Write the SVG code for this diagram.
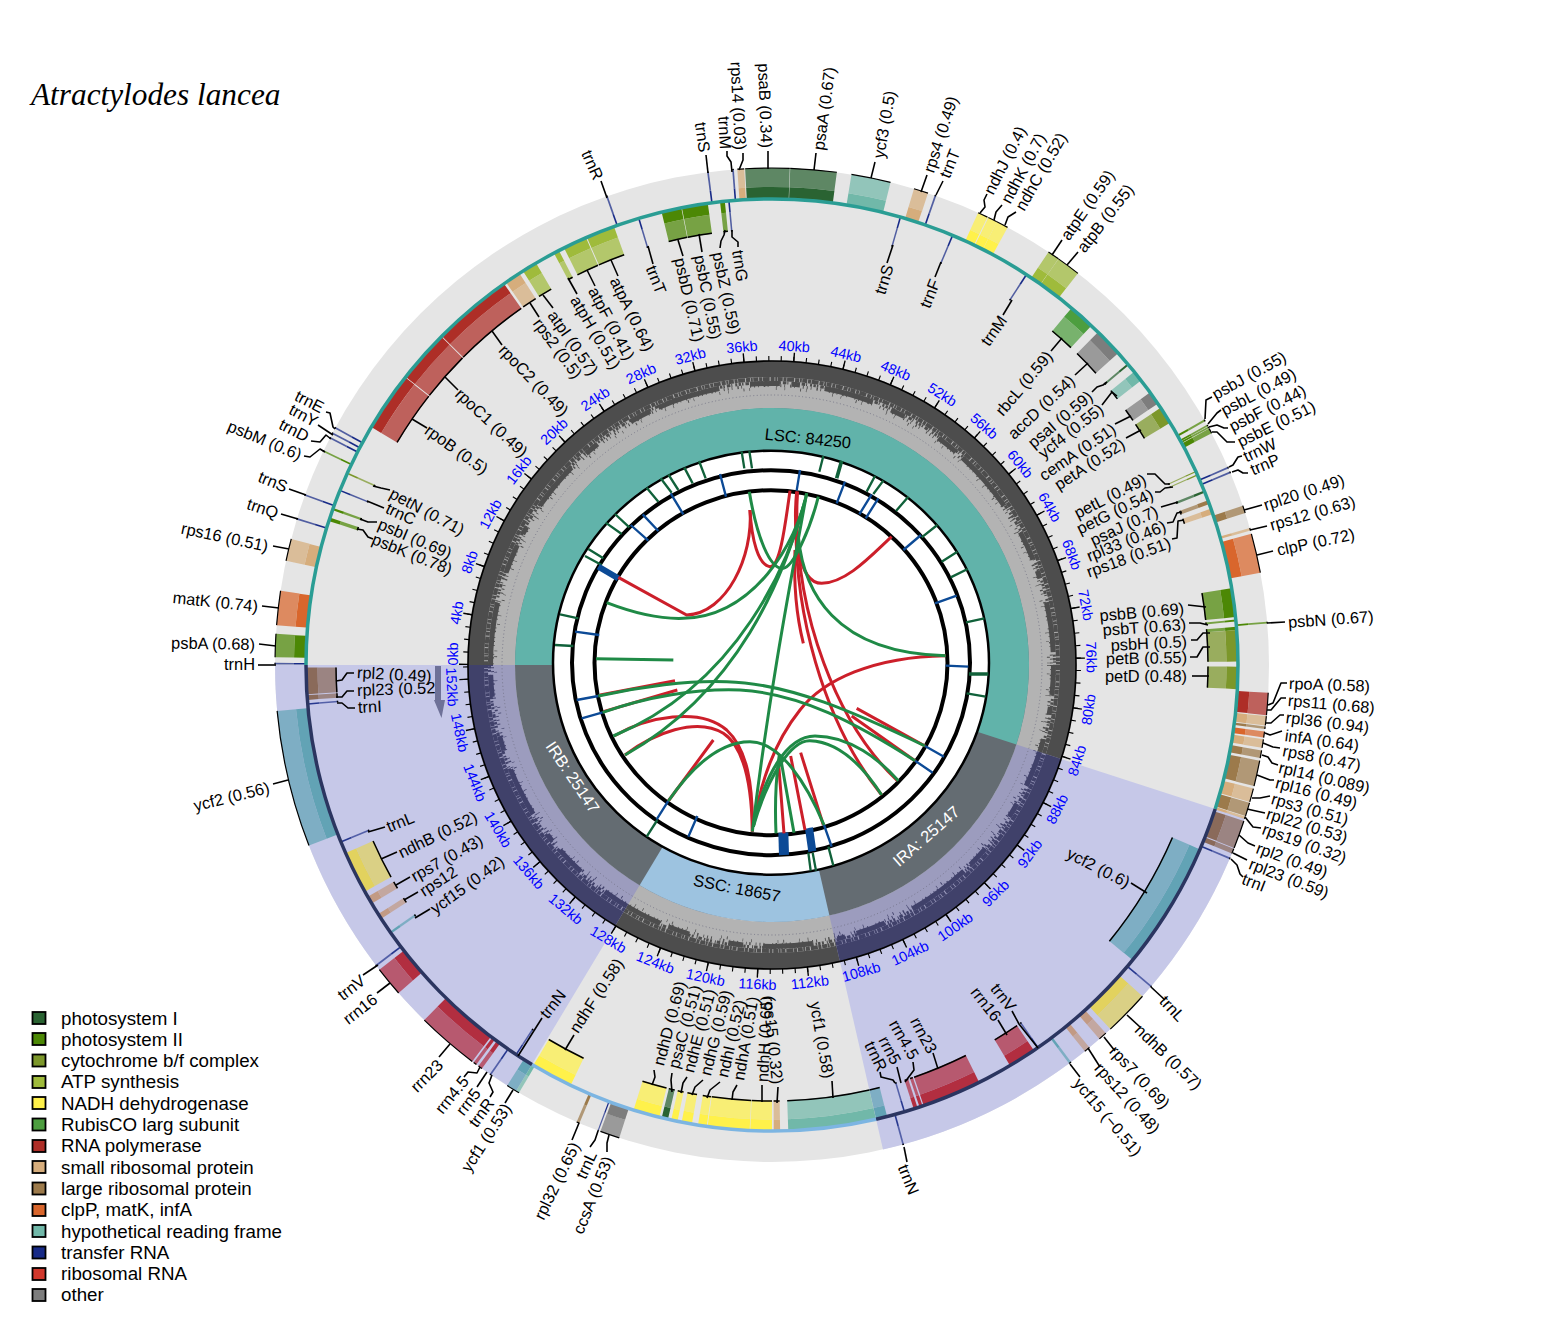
<svg xmlns="http://www.w3.org/2000/svg" width="1544" height="1334" viewBox="0 0 1544 1334">
<style>
text{font-family:"Liberation Sans",Arial,sans-serif;font-size:16.4px;fill:#000;dominant-baseline:central}
.e{text-anchor:end}
.m{text-anchor:middle}
.tk{font-size:14.4px;fill:#00f;text-anchor:middle}
.lg{font-size:18.75px}
.wh{fill:#fff}
.P1{stroke:#2a6332}.P2{stroke:#4c8805}.C{stroke:#7c972a}.A{stroke:#9fbb3b}.N{stroke:#fff14a}.R{stroke:#4d9e3f}.P{stroke:#ae2e27}.S{stroke:#d6ad7c}.L{stroke:#9c7a4b}.K{stroke:#d9662c}.Y{stroke:#71b8a9}.T{stroke:#172a87}.O{stroke:#7d7d7d}
.r2{stroke:#b22e40}.y2{stroke:#62a3b5}.n2{stroke:#e2d25e}.s2{stroke:#c29a84}.l2{stroke:#8a6a5a}.t2{stroke:#27388f}
#connectors polyline{fill:none;stroke:#000;stroke-width:1.6;stroke-linejoin:round}
.sw{stroke:#000;stroke-width:1.8}
.gc{fill:none;stroke:#1f8a46;stroke-width:9}
.rc{fill:none;stroke:#cc1f2a;stroke-width:9}
.gt{stroke:#10613a;stroke-width:7;fill:none}
.bt{stroke:#0c4a96;stroke-width:7;fill:none}
</style>
<defs>
<g id="O" fill="none">
<circle cx="772" cy="665" r="472.5" stroke-width="11" pathLength="360"/>
<circle cx="772" cy="665" r="487.5" stroke-width="19" opacity=".72" pathLength="360"/>
<circle cx="772" cy="665" r="497" stroke-width="1.2" stroke="#000" pathLength="360"/>
</g>
<g id="I" fill="none">
<circle cx="772" cy="665" r="460" stroke-width="11" pathLength="360"/>
<circle cx="772" cy="665" r="445" stroke-width="19" opacity=".72" pathLength="360"/>
<circle cx="772" cy="665" r="436" stroke-width="1.5" stroke="#000" pathLength="360"/>
</g>
<g id="spk" fill="none" stroke="currentColor">
<circle cx="772" cy="665" r="296" stroke-width="16"/>
<circle cx="772" cy="665" r="286" stroke-width="4" stroke-dasharray="5 .8 3 .6 7 1 4 .7 2 .5"/>
<circle cx="772" cy="665" r="282.5" stroke-width="3" stroke-dasharray="2.4 1 1.5 2 3.5 1 1 3 2 1.4"/>
<circle cx="772" cy="665" r="281.5" stroke-width="5" stroke-dasharray="30 12 8 25 50 20 15 40 22 9 64 31"/>
<circle cx="772" cy="665" r="279.5" stroke-width="3" stroke-dasharray="1 3 .8 5 1.4 2.5 .8 8 1 3"/>
<circle cx="772" cy="665" r="276.5" stroke-width="3" stroke-dasharray=".7 8 .6 15 .9 5 .6 26"/>
</g>
<clipPath id="cIR"><polygon points="772,665 1372,860 1372,1250 906,1250"/><polygon points="772,665 463,1179 172,1179 172,665"/></clipPath>
<clipPath id="cNon"><polygon points="772,665 172,665 172,65 1372,65 1372,860"/><polygon points="772,665 906,1250 463,1179"/></clipPath>
</defs>
<rect width="1544" height="1334" fill="#fff"/>
<text x="31" y="94" style="font-family:'Liberation Serif',serif;font-style:italic;font-size:31.3px">Atractylodes lancea</text>
<g id="background">
<circle cx="772" cy="665" r="497" fill="#e5e5e5"/>
<path d="M772 665L1244.7 818.6A497 497 0 0 1 883 1149.5Z" fill="#c6c8e8"/>
<path d="M772 665L516 1091A497 497 0 0 1 275 665Z" fill="#c6c8e8"/>
</g>
<g id="genes-outer">
<g id="gene-trnH"><use href="#O" class="T" stroke-dasharray=".2 360" transform="rotate(180.05 772 665)"/><text class="e" transform="translate(255 664)">trnH</text></g>
<g id="gene-psbA"><use href="#O" class="P2" stroke-dasharray="2.7 360" transform="rotate(180.9 772 665)"/><text class="e" transform="translate(255 644) rotate(1)">psbA (0.68)</text></g>
<g id="gene-matK"><use href="#O" class="K" stroke-dasharray="4 360" transform="rotate(184.6 772 665)"/><text class="e" transform="translate(258 606) rotate(6)">matK (0.74)</text></g>
<g id="gene-rps16"><use href="#O" class="S" stroke-dasharray="2.6 360" transform="rotate(192.1 772 665)"/><text class="e" transform="translate(268 546) rotate(12)">rps16 (0.51)</text></g>
<g id="gene-trnQ"><use href="#O" class="T" stroke-dasharray=".2 360" transform="rotate(197 772 665)"/><text class="e" transform="translate(278 513) rotate(18)">trnQ</text></g>
<g id="gene-trnS1"><use href="#O" class="T" stroke-dasharray=".2 360" transform="rotate(199.9 772 665)"/><text class="e" transform="translate(287 487) rotate(22)">trnS</text></g>
<g id="gene-psbM"><use href="#O" class="P2" stroke-dasharray=".2 360" transform="rotate(205.4 772 665)"/><text class="e" transform="translate(301 455) rotate(22.6)">psbM (0.6)</text></g>
<g id="gene-trnD"><use href="#O" class="T" stroke-dasharray=".2 360" transform="rotate(207.1 772 665)"/><text class="e" transform="translate(308 437) rotate(27)">trnD</text></g>
<g id="gene-trnY"><use href="#O" class="T" stroke-dasharray=".2 360" transform="rotate(207.7 772 665)"/><text class="e" transform="translate(317 422) rotate(28)">trnY</text></g>
<g id="gene-trnE"><use href="#O" class="T" stroke-dasharray=".2 360" transform="rotate(208.4 772 665)"/><text class="e" transform="translate(323 408) rotate(27)">trnE</text></g>
<g id="gene-trnR1"><use href="#O" class="T" stroke-dasharray=".2 360" transform="rotate(250.5 772 665)"/><text class="e" transform="translate(599 179) rotate(66)">trnR</text></g>
<g id="gene-trnS2"><use href="#O" class="T" stroke-dasharray=".2 360" transform="rotate(262.5 772 665)"/><text class="e" transform="translate(705 152) rotate(82)">trnS</text></g>
<g id="gene-trnM1"><use href="#O" class="T" stroke-dasharray=".2 360" transform="rotate(265.4 772 665)"/><text class="e" transform="translate(726 149) rotate(87)">trnM</text></g>
<g id="gene-rps14"><use href="#O" class="S" stroke-dasharray=".8 360" transform="rotate(266 772 665)"/><text class="e" transform="translate(741 150) rotate(87)">rps14 (0.03)</text></g>
<g id="gene-psaB"><use href="#O" class="P1" stroke-dasharray="5.15 360" transform="rotate(266.9 772 665)"/><text class="e" transform="translate(767 148) rotate(88)">psaB (0.34)</text></g>
<g id="gene-psaA"><use href="#O" class="P1" stroke-dasharray="5.4 360" transform="rotate(272.1 772 665)"/><text transform="translate(818 150) rotate(-82)">psaA (0.67)</text></g>
<g id="gene-ycf3"><use href="#O" class="Y" stroke-dasharray="4.6 360" transform="rotate(279.2 772 665)"/><text transform="translate(878 158) rotate(-80)">ycf3 (0.5)</text></g>
<g id="gene-rps4"><use href="#O" class="S" stroke-dasharray="1.7 360" transform="rotate(286.6 772 665)"/><text transform="translate(928 172) rotate(-72)">rps4 (0.49)</text></g>
<g id="gene-trnT1"><use href="#O" class="T" stroke-dasharray=".2 360" transform="rotate(289.1 772 665)"/><text transform="translate(944 177) rotate(-68)">trnT</text></g>
<g id="gene-ndhJ"><use href="#O" class="N" stroke-dasharray="1.2 360" transform="rotate(294.5 772 665)"/><text transform="translate(988 193) rotate(-63)">ndhJ (0.4)</text></g>
<g id="gene-ndhK"><use href="#O" class="N" stroke-dasharray="1.1 360" transform="rotate(295.8 772 665)"/><text transform="translate(1005 202) rotate(-62)">ndhK (0.7)</text></g>
<g id="gene-ndhC"><use href="#O" class="N" stroke-dasharray="1.4 360" transform="rotate(296.9 772 665)"/><text transform="translate(1019 209) rotate(-60)">ndhC (0.52)</text></g>
<g id="gene-atpE"><use href="#O" class="A" stroke-dasharray="1.4 360" transform="rotate(303.8 772 665)"/><text transform="translate(1064 238) rotate(-55)">atpE (0.59)</text></g>
<g id="gene-atpB"><use href="#O" class="A" stroke-dasharray="2.8 360" transform="rotate(305.2 772 665)"/><text transform="translate(1080 250) rotate(-52)">atpB (0.55)</text></g>
<g id="gene-psbJ"><use href="#O" class="P2" stroke-dasharray=".25 360" transform="rotate(330.4 772 665)"/><text transform="translate(1213 395) rotate(-29)">psbJ (0.55)</text></g>
<g id="gene-psbL"><use href="#O" class="P2" stroke-dasharray=".2 360" transform="rotate(331.1 772 665)"/><text transform="translate(1222 411) rotate(-28)">psbL (0.49)</text></g>
<g id="gene-psbF"><use href="#O" class="P2" stroke-dasharray=".2 360" transform="rotate(331.35 772 665)"/><text transform="translate(1230 427) rotate(-27)">psbF (0.44)</text></g>
<g id="gene-psbE"><use href="#O" class="P2" stroke-dasharray=".6 360" transform="rotate(331.6 772 665)"/><text transform="translate(1238 442) rotate(-26)">psbE (0.51)</text></g>
<g id="gene-trnW"><use href="#O" class="T" stroke-dasharray=".2 360" transform="rotate(336.5 772 665)"/><text transform="translate(1244 457) rotate(-25)">trnW</text></g>
<g id="gene-trnP"><use href="#O" class="T" stroke-dasharray=".2 360" transform="rotate(337.1 772 665)"/><text transform="translate(1251 470) rotate(-23)">trnP</text></g>
<g id="gene-rpl20"><use href="#O" class="L" stroke-dasharray=".9 360" transform="rotate(341.3 772 665)"/><text transform="translate(1264 505) rotate(-18)">rpl20 (0.49)</text></g>
<g id="gene-rps12a"><use href="#O" class="S" stroke-dasharray=".3 360" transform="rotate(344 772 665)"/><text transform="translate(1270 525) rotate(-16)">rps12 (0.63)</text></g>
<g id="gene-clpP"><use href="#O" class="K" stroke-dasharray="4.6 360" transform="rotate(344.7 772 665)"/><text transform="translate(1277 550) rotate(-12)">clpP (0.72)</text></g>
<g id="gene-psbN"><use href="#O" class="P2" stroke-dasharray=".2 360" transform="rotate(355 772 665)"/><text transform="translate(1288 622) rotate(-4)">psbN (0.67)</text></g>
<g id="gene-rpoA"><use href="#O" class="P" stroke-dasharray="2.6 360" transform="rotate(363.2 772 665)"/><text transform="translate(1289 683) rotate(2)">rpoA (0.58)</text></g>
<g id="gene-rps11"><use href="#O" class="S" stroke-dasharray="1.1 360" transform="rotate(365.9 772 665)"/><text transform="translate(1288 700) rotate(5)">rps11 (0.68)</text></g>
<g id="gene-rpl36"><use href="#O" class="L" stroke-dasharray=".3 360" transform="rotate(367.1 772 665)"/><text transform="translate(1286 717) rotate(7)">rpl36 (0.94)</text></g>
<g id="gene-infA"><use href="#O" class="K" stroke-dasharray=".7 360" transform="rotate(367.7 772 665)"/><text transform="translate(1285 735) rotate(8)">infA (0.64)</text></g>
<g id="gene-rps8"><use href="#O" class="S" stroke-dasharray="1 360" transform="rotate(368.6 772 665)"/><text transform="translate(1283 750) rotate(11)">rps8 (0.47)</text></g>
<g id="gene-rpl14"><use href="#O" class="L" stroke-dasharray=".9 360" transform="rotate(369.9 772 665)"/><text transform="translate(1279 767) rotate(13)">rpl14 (0.089)</text></g>
<g id="gene-rpl16"><use href="#O" class="L" stroke-dasharray="3 360" transform="rotate(371.1 772 665)"/><text transform="translate(1276 782) rotate(14.5)">rpl16 (0.49)</text></g>
<g id="gene-rps3"><use href="#O" class="S" stroke-dasharray="1.6 360" transform="rotate(374.4 772 665)"/><text transform="translate(1272 798) rotate(16)">rps3 (0.51)</text></g>
<g id="gene-rpl22"><use href="#O" class="L" stroke-dasharray="1.6 360" transform="rotate(376.1 772 665)"/><text transform="translate(1267 813) rotate(17)">rpl22 (0.53)</text></g>
<g id="gene-rps19"><use href="#O" class="S" stroke-dasharray=".3 360" transform="rotate(377.75 772 665)"/><text transform="translate(1263 828) rotate(20)">rps19 (0.32)</text></g>
<g id="gene-rpl2a"><use href="#O" class="l2" stroke-dasharray="3.3 360" transform="rotate(378.3 772 665)"/><text transform="translate(1257 847) rotate(20)">rpl2 (0.49)</text></g>
<g id="gene-rpl23a"><use href="#O" class="l2" stroke-dasharray=".6 360" transform="rotate(381.7 772 665)"/><text transform="translate(1250 863) rotate(21)">rpl23 (0.59)</text></g>
<g id="gene-trnIa"><use href="#O" class="t2" stroke-dasharray=".2 360" transform="rotate(382.8 772 665)"/><text transform="translate(1243 878) rotate(21)">trnI</text></g>
<g id="gene-trnLa"><use href="#O" class="t2" stroke-dasharray=".2 360" transform="rotate(400.2 772 665)"/><text transform="translate(1163 998) rotate(47)">trnL</text></g>
<g id="gene-ndhBa"><use href="#O" class="n2" stroke-dasharray="5.3 360" transform="rotate(401.8 772 665)"/><text transform="translate(1138 1027) rotate(44)">ndhB (0.57)</text></g>
<g id="gene-rps7a"><use href="#O" class="s2" stroke-dasharray="1 360" transform="rotate(407.8 772 665)"/><text transform="translate(1113 1048) rotate(47)">rps7 (0.69)</text></g>
<g id="gene-rps12b"><use href="#O" class="s2" stroke-dasharray=".7 360" transform="rotate(410.3 772 665)"/><text transform="translate(1098 1065) rotate(48)">rps12 (0.48)</text></g>
<g id="gene-ycf15a"><use href="#O" class="y2" stroke-dasharray=".3 360" transform="rotate(413 772 665)"/><text transform="translate(1077 1080) rotate(50)">ycf15 (−0.51)</text></g>
<g id="gene-trnNa"><use href="#O" class="t2" stroke-dasharray=".2 360" transform="rotate(434.6 772 665)"/><text transform="translate(903 1165) rotate(68)">trnN</text></g>
<g id="gene-ccsA"><use href="#O" class="O" stroke-dasharray="2.3 360" transform="rotate(467.9 772 665)"/><text class="e" transform="translate(608 1157) rotate(-68)">ccsA (0.53)</text></g>
<g id="gene-trnLs"><use href="#O" class="T" stroke-dasharray=".15 360" transform="rotate(470.4 772 665)"/><text class="e" transform="translate(592 1152) rotate(-65)">trnL</text></g>
<g id="gene-rpl32"><use href="#O" class="L" stroke-dasharray=".35 360" transform="rotate(472.8 772 665)"/><text class="e" transform="translate(575 1143) rotate(-64)">rpl32 (0.65)</text></g>
<g id="gene-ycf1b"><use href="#O" class="Y" stroke-dasharray=".4 360" transform="rotate(480.6 772 665)"/><use href="#O" class="y2" stroke-dasharray="1.2 360" transform="rotate(481 772 665)"/><text class="e" transform="translate(507 1105) rotate(-57)">ycf1 (0.53)</text></g>
<g id="gene-trnRb"><use href="#O" class="t2" stroke-dasharray=".2 360" transform="rotate(484.4 772 665)"/><text class="e" transform="translate(490 1100) rotate(-54)">trnR</text></g>
<g id="gene-rrn5b"><use href="#O" class="r2" stroke-dasharray=".5 360" transform="rotate(485.7 772 665)"/><text class="e" transform="translate(477 1090) rotate(-52)">rrn5</text></g>
<g id="gene-rrn45b"><use href="#O" class="r2" stroke-dasharray=".4 360" transform="rotate(486.5 772 665)"/><text class="e" transform="translate(465 1078) rotate(-51)">rrn4.5</text></g>
<g id="gene-rrn23b"><use href="#O" class="r2" stroke-dasharray="7.3 360" transform="rotate(487.1 772 665)"/><text class="e" transform="translate(440 1062) rotate(-45)">rrn23</text></g>
<g id="gene-rrn16b"><use href="#O" class="r2" stroke-dasharray="3.5 360" transform="rotate(498.7 772 665)"/><text class="e" transform="translate(375 997) rotate(-38)">rrn16</text></g>
<g id="gene-trnVb"><use href="#O" class="t2" stroke-dasharray=".2 360" transform="rotate(502.7 772 665)"/><text class="e" transform="translate(363 978) rotate(-38)">trnV</text></g>
<g id="gene-ycf2b"><use href="#O" class="y2" stroke-dasharray="16 360" transform="rotate(518.7 772 665)"/><text class="e" transform="translate(269 787) rotate(-14)">ycf2 (0.56)</text></g>
</g>
<g id="genes-inner">
<g id="gene-psbK"><use href="#I" class="P2" stroke-dasharray=".45 360" transform="rotate(198 772 665)"/><text transform="translate(373 538) rotate(22)">psbK (0.78)</text></g>
<g id="gene-psbI"><use href="#I" class="P2" stroke-dasharray=".3 360" transform="rotate(199.4 772 665)"/><text transform="translate(379 523) rotate(23)">psbI (0.69)</text></g>
<g id="gene-trnC"><use href="#I" class="T" stroke-dasharray=".2 360" transform="rotate(201.9 772 665)"/><text transform="translate(387 507) rotate(25)">trnC</text></g>
<g id="gene-petN"><use href="#I" class="C" stroke-dasharray=".2 360" transform="rotate(204.2 772 665)"/><text transform="translate(391 492) rotate(28)">petN (0.71)</text></g>
<g id="gene-rpoB"><use href="#I" class="P" stroke-dasharray="7.4 360" transform="rotate(210.7 772 665)"/><text transform="translate(427 428) rotate(35.5)">rpoB (0.5)</text></g>
<g id="gene-rpoC1"><use href="#I" class="P" stroke-dasharray="6.6 360" transform="rotate(218.2 772 665)"/><text transform="translate(458 391) rotate(43)">rpoC1 (0.49)</text></g>
<g id="gene-rpoC2"><use href="#I" class="P" stroke-dasharray="10 360" transform="rotate(224.9 772 665)"/><text transform="translate(502 347) rotate(46)">rpoC2 (0.49)</text></g>
<g id="gene-rps2"><use href="#I" class="S" stroke-dasharray="2 360" transform="rotate(235.2 772 665)"/><text transform="translate(537 320) rotate(53.5)">rps2 (0.5)</text></g>
<g id="gene-atpI"><use href="#I" class="A" stroke-dasharray="1.9 360" transform="rotate(237.7 772 665)"/><text transform="translate(552 312) rotate(55)">atpI (0.57)</text></g>
<g id="gene-atpH"><use href="#I" class="A" stroke-dasharray=".7 360" transform="rotate(242.1 772 665)"/><text transform="translate(575 297) rotate(59.5)">atpH (0.51)</text></g>
<g id="gene-atpF"><use href="#I" class="A" stroke-dasharray="3 360" transform="rotate(243.5 772 665)"/><text transform="translate(593 288) rotate(62)">atpF (0.41)</text></g>
<g id="gene-atpA"><use href="#I" class="A" stroke-dasharray="3.6 360" transform="rotate(246.6 772 665)"/><text transform="translate(615 278) rotate(64)">atpA (0.64)</text></g>
<g id="gene-trnT2"><use href="#I" class="T" stroke-dasharray=".2 360" transform="rotate(253.3 772 665)"/><text transform="translate(651 266) rotate(68)">trnT</text></g>
<g id="gene-psbD"><use href="#I" class="P2" stroke-dasharray="2.5 360" transform="rotate(256.3 772 665)"/><text transform="translate(680 258) rotate(77)">psbD (0.71)</text></g>
<g id="gene-psbC"><use href="#I" class="P2" stroke-dasharray="3.25 360" transform="rotate(258.85 772 665)"/><text transform="translate(700 255) rotate(79)">psbC (0.55)</text></g>
<g id="gene-psbZ"><use href="#I" class="P2" stroke-dasharray=".6 360" transform="rotate(263.6 772 665)"/><text transform="translate(718 252) rotate(78)">psbZ (0.59)</text></g>
<g id="gene-trnG"><use href="#I" class="T" stroke-dasharray=".2 360" transform="rotate(264.6 772 665)"/><text transform="translate(738 250) rotate(81)">trnG</text></g>
<g id="gene-trnS3"><use href="#I" class="T" stroke-dasharray=".2 360" transform="rotate(285.9 772 665)"/><text class="e" transform="translate(888 265) rotate(-73)">trnS</text></g>
<g id="gene-trnF"><use href="#I" class="T" stroke-dasharray=".2 360" transform="rotate(292.7 772 665)"/><text class="e" transform="translate(935 280) rotate(-68)">trnF</text></g>
<g id="gene-trnM2"><use href="#I" class="T" stroke-dasharray=".2 360" transform="rotate(303 772 665)"/><text class="e" transform="translate(1003 317) rotate(-55)">trnM</text></g>
<g id="gene-rbcL"><use href="#I" class="R" stroke-dasharray="3.3 360" transform="rotate(310 772 665)"/><text class="e" transform="translate(1049 353) rotate(-50)">rbcL (0.59)</text></g>
<g id="gene-accD"><use href="#I" class="O" stroke-dasharray="3.6 360" transform="rotate(314.4 772 665)"/><text class="e" transform="translate(1072 378) rotate(-43)">accD (0.54)</text></g>
<g id="gene-psaI"><use href="#I" class="P1" stroke-dasharray=".25 360" transform="rotate(319.7 772 665)"/><text class="e" transform="translate(1090 394) rotate(-40)">psaI (0.59)</text></g>
<g id="gene-ycf4"><use href="#I" class="Y" stroke-dasharray="1.4 360" transform="rotate(321 772 665)"/><text class="e" transform="translate(1101 407) rotate(-38)">ycf4 (0.55)</text></g>
<g id="gene-cemA"><use href="#I" class="O" stroke-dasharray="1.7 360" transform="rotate(324.2 772 665)"/><text class="e" transform="translate(1114 427) rotate(-34)">cemA (0.51)</text></g>
<g id="gene-petA"><use href="#I" class="C" stroke-dasharray="2.2 360" transform="rotate(326.5 772 665)"/><text class="e" transform="translate(1123 442) rotate(-33)">petA (0.52)</text></g>
<g id="gene-petL"><use href="#I" class="C" stroke-dasharray=".15 360" transform="rotate(335.4 772 665)"/><text class="e" transform="translate(1145 478) rotate(-27)">petL (0.49)</text></g>
<g id="gene-petG"><use href="#I" class="C" stroke-dasharray=".15 360" transform="rotate(335.85 772 665)"/><text class="e" transform="translate(1152 493) rotate(-26)">petG (0.54)</text></g>
<g id="gene-psaJ"><use href="#I" class="P1" stroke-dasharray=".3 360" transform="rotate(338 772 665)"/><text class="e" transform="translate(1157 510) rotate(-25)">psaJ (0.7)</text></g>
<g id="gene-rpl33"><use href="#I" class="L" stroke-dasharray=".5 360" transform="rotate(339.3 772 665)"/><text class="e" transform="translate(1165 525) rotate(-22)">rpl33 (0.46)</text></g>
<g id="gene-rps18"><use href="#I" class="S" stroke-dasharray=".7 360" transform="rotate(340.4 772 665)"/><text class="e" transform="translate(1170 542) rotate(-20)">rps18 (0.51)</text></g>
<g id="gene-psbB"><use href="#I" class="P2" stroke-dasharray="3.6 360" transform="rotate(350.5 772 665)"/><text class="e" transform="translate(1184 608) rotate(-5)">psbB (0.69)</text></g>
<g id="gene-psbT"><use href="#I" class="P2" stroke-dasharray=".25 360" transform="rotate(354.4 772 665)"/><text class="e" transform="translate(1186 624) rotate(-4)">psbT (0.63)</text></g>
<g id="gene-psbH"><use href="#I" class="P2" stroke-dasharray=".4 360" transform="rotate(355.3 772 665)"/><text class="e" transform="translate(1187 641) rotate(-3)">psbH (0.5)</text></g>
<g id="gene-petB"><use href="#I" class="C" stroke-dasharray="3.9 360" transform="rotate(355.7 772 665)"/><text class="e" transform="translate(1187 657) rotate(-1)">petB (0.55)</text></g>
<g id="gene-petD"><use href="#I" class="C" stroke-dasharray="2.8 360" transform="rotate(360.2 772 665)"/><text class="e" transform="translate(1187 676)">petD (0.48)</text></g>
<g id="gene-ycf2a"><use href="#I" class="y2" stroke-dasharray="16 360" transform="rotate(383.3 772 665)"/><text class="e" transform="translate(1129 883) rotate(27)">ycf2 (0.6)</text></g>
<g id="gene-trnVa"><use href="#I" class="t2" stroke-dasharray=".2 360" transform="rotate(415.1 772 665)"/><text class="e" transform="translate(1013 1009) rotate(52)">trnV</text></g>
<g id="gene-rrn16a"><use href="#I" class="r2" stroke-dasharray="3.5 360" transform="rotate(415.8 772 665)"/><text class="e" transform="translate(998 1019) rotate(52)">rrn16</text></g>
<g id="gene-rrn23a"><use href="#I" class="r2" stroke-dasharray="7.4 360" transform="rotate(423.6 772 665)"/><text class="e" transform="translate(933 1052) rotate(62)">rrn23</text></g>
<g id="gene-rrn45a"><use href="#I" class="r2" stroke-dasharray=".4 360" transform="rotate(431.15 772 665)"/><text class="e" transform="translate(915 1058) rotate(60)">rrn4.5</text></g>
<g id="gene-rrn5a"><use href="#I" class="r2" stroke-dasharray=".5 360" transform="rotate(431.8 772 665)"/><text class="e" transform="translate(897 1063) rotate(62)">rrn5</text></g>
<g id="gene-trnRa"><use href="#I" class="t2" stroke-dasharray=".2 360" transform="rotate(433.4 772 665)"/><text class="e" transform="translate(883 1070) rotate(64)">trnR</text></g>
<g id="gene-ycf1a"><use href="#I" class="y2" stroke-dasharray="1.4 360" transform="rotate(435.7 772 665)"/><use href="#I" class="Y" stroke-dasharray="10.9 360" transform="rotate(437.1 772 665)"/><text class="e" transform="translate(829 1078) rotate(80)">ycf1 (0.58)</text></g>
<g id="gene-rps15"><use href="#I" class="S" stroke-dasharray=".8 360" transform="rotate(449 772 665)"/><text class="e" transform="translate(778 1084) rotate(84)">rps15 (0.32)</text></g>
<g id="gene-ndhH"><use href="#I" class="N" stroke-dasharray="2.7 360" transform="rotate(450 772 665)"/><text transform="translate(762 1082) rotate(-87)">ndhH (0.65)</text></g>
<g id="gene-ndhA"><use href="#I" class="N" stroke-dasharray="5.2 360" transform="rotate(452.75 772 665)"/><text transform="translate(738 1080) rotate(-80)">ndhA (0.51)</text></g>
<g id="gene-ndhI"><use href="#I" class="N" stroke-dasharray="1.1 360" transform="rotate(458.05 772 665)"/><text transform="translate(722 1077) rotate(-77)">ndhI (0.52)</text></g>
<g id="gene-ndhG"><use href="#I" class="N" stroke-dasharray="1.3 360" transform="rotate(459.9 772 665)"/><text transform="translate(705 1075) rotate(-76)">ndhG (0.59)</text></g>
<g id="gene-ndhE"><use href="#I" class="N" stroke-dasharray=".8 360" transform="rotate(461.7 772 665)"/><text transform="translate(688 1072) rotate(-75)">ndhE (0.51)</text></g>
<g id="gene-psaC"><use href="#I" class="P1" stroke-dasharray=".8 360" transform="rotate(462.9 772 665)"/><text transform="translate(673 1068) rotate(-74.5)">psaC (0.51)</text></g>
<g id="gene-ndhD"><use href="#I" class="N" stroke-dasharray="3.3 360" transform="rotate(464 772 665)"/><text transform="translate(658 1065) rotate(-75)">ndhD (0.69)</text></g>
<g id="gene-ndhF"><use href="#I" class="N" stroke-dasharray="5.2 360" transform="rotate(475.6 772 665)"/><text transform="translate(573 1031) rotate(-57)">ndhF (0.58)</text></g>
<g id="gene-trnNb"><use href="#I" class="t2" stroke-dasharray=".2 360" transform="rotate(483.2 772 665)"/><text transform="translate(543 1016) rotate(-52)">trnN</text></g>
<g id="gene-ycf15b"><use href="#I" class="y2" stroke-dasharray=".3 360" transform="rotate(504.8 772 665)"/><text transform="translate(432 910) rotate(-36)">ycf15 (0.42)</text></g>
<g id="gene-rps12c"><use href="#I" class="s2" stroke-dasharray=".7 360" transform="rotate(507 772 665)"/><text transform="translate(421 892) rotate(-33)">rps12</text></g>
<g id="gene-rps7b"><use href="#I" class="s2" stroke-dasharray="1 360" transform="rotate(509.2 772 665)"/><text transform="translate(412 877) rotate(-29)">rps7 (0.43)</text></g>
<g id="gene-ndhBb"><use href="#I" class="n2" stroke-dasharray="5.3 360" transform="rotate(510.9 772 665)"/><text transform="translate(399 853) rotate(-26)">ndhB (0.52)</text></g>
<g id="gene-trnLb"><use href="#I" class="t2" stroke-dasharray=".2 360" transform="rotate(517.6 772 665)"/><text transform="translate(387 827) rotate(-22)">trnL</text></g>
<g id="gene-trnIb"><use href="#I" class="t2" stroke-dasharray=".2 360" transform="rotate(535.1 772 665)"/><text transform="translate(358 707) rotate(-3)">trnI</text></g>
<g id="gene-rpl23b"><use href="#I" class="l2" stroke-dasharray=".6 360" transform="rotate(535.7 772 665)"/><text transform="translate(357 690) rotate(-2)">rpl23 (0.52)</text></g>
<g id="gene-rpl2b"><use href="#I" class="l2" stroke-dasharray="3.3 360" transform="rotate(536.4 772 665)"/><text transform="translate(357 672) rotate(3)">rpl2 (0.49)</text></g>
</g>
<g id="ring" fill="none" stroke-width="3.5">
<circle cx="772" cy="665" r="466" stroke="#2a9d94" pathLength="360" stroke-dasharray="198 400" transform="rotate(180 772 665)"/>
<circle cx="772" cy="665" r="466" stroke="#2b3560" pathLength="360" stroke-dasharray="59.1 400" transform="rotate(378 772 665)"/>
<circle cx="772" cy="665" r="466" stroke="#7cb5e2" pathLength="360" stroke-dasharray="43.9 400" transform="rotate(437.1 772 665)"/>
<circle cx="772" cy="665" r="466" stroke="#2b3560" pathLength="360" stroke-dasharray="59 400" transform="rotate(481 772 665)"/>
</g>
<polygon id="ir-arrow" points="435,666 441,666 441,700 445,700 441.5,718 434,700 435,700" fill="#6e7198"/>
<g id="gc-content">
<circle cx="772" cy="665" r="281" fill="none" stroke="#b3b3b3" stroke-width="48"/>
<g fill="none" stroke="#9c9cbe" stroke-width="48">
<circle cx="772" cy="665" r="281" pathLength="360" stroke-dasharray="59.1 400" transform="rotate(378 772 665)"/>
<circle cx="772" cy="665" r="281" pathLength="360" stroke-dasharray="59 400" transform="rotate(481 772 665)"/>
</g>
<circle cx="772" cy="665" r="270" fill="none" stroke="#6d6d80" stroke-width=".8" stroke-dasharray="1 2.5"/>
<g clip-path="url(#cNon)"><use href="#spk" style="color:#4d4d4d"/></g>
<g clip-path="url(#cIR)"><use href="#spk" style="color:#40416a"/></g>
</g>
<g id="scale">
<circle cx="772" cy="665" r="304" fill="none" stroke="#000" stroke-width="1.6"/>
<circle cx="772" cy="665" r="306.5" fill="none" stroke="#000" stroke-width="5" pathLength="153201" stroke-dasharray="90 910" transform="rotate(180 772 665)"/>
<circle cx="772" cy="665" r="308.5" fill="none" stroke="#000" stroke-width="9" pathLength="153201" stroke-dasharray="110 3890" transform="rotate(180 772 665)"/>
<text class="tk" transform="translate(453 654) rotate(-90)">0kb</text>
<text class="tk" transform="rotate(-80.6 772 665) translate(772 345.5)">4kb</text>
<text class="tk" transform="rotate(-71.2 772 665) translate(772 345.5)">8kb</text>
<text class="tk" transform="rotate(-61.8 772 665) translate(772 345.5)">12kb</text>
<text class="tk" transform="rotate(-52.4 772 665) translate(772 345.5)">16kb</text>
<text class="tk" transform="rotate(-43 772 665) translate(772 345.5)">20kb</text>
<text class="tk" transform="rotate(-33.6 772 665) translate(772 345.5)">24kb</text>
<text class="tk" transform="rotate(-24.2 772 665) translate(772 345.5)">28kb</text>
<text class="tk" transform="rotate(-14.8 772 665) translate(772 345.5)">32kb</text>
<text class="tk" transform="rotate(-5.4 772 665) translate(772 345.5)">36kb</text>
<text class="tk" transform="rotate(4 772 665) translate(772 345.5)">40kb</text>
<text class="tk" transform="rotate(13.4 772 665) translate(772 345.5)">44kb</text>
<text class="tk" transform="rotate(22.8 772 665) translate(772 345.5)">48kb</text>
<text class="tk" transform="rotate(32.2 772 665) translate(772 345.5)">52kb</text>
<text class="tk" transform="rotate(41.6 772 665) translate(772 345.5)">56kb</text>
<text class="tk" transform="rotate(51 772 665) translate(772 345.5)">60kb</text>
<text class="tk" transform="rotate(60.4 772 665) translate(772 345.5)">64kb</text>
<text class="tk" transform="rotate(69.8 772 665) translate(772 345.5)">68kb</text>
<text class="tk" transform="rotate(79.2 772 665) translate(772 345.5)">72kb</text>
<text class="tk" transform="rotate(88.6 772 665) translate(772 345.5)">76kb</text>
<text class="tk" transform="rotate(98 772 665) translate(772 345.5) rotate(180)">80kb</text>
<text class="tk" transform="rotate(107.4 772 665) translate(772 345.5) rotate(180)">84kb</text>
<text class="tk" transform="rotate(116.8 772 665) translate(772 345.5) rotate(180)">88kb</text>
<text class="tk" transform="rotate(126.2 772 665) translate(772 345.5) rotate(180)">92kb</text>
<text class="tk" transform="rotate(135.6 772 665) translate(772 345.5) rotate(180)">96kb</text>
<text class="tk" transform="rotate(145 772 665) translate(772 345.5) rotate(180)">100kb</text>
<text class="tk" transform="rotate(154.4 772 665) translate(772 345.5) rotate(180)">104kb</text>
<text class="tk" transform="rotate(163.8 772 665) translate(772 345.5) rotate(180)">108kb</text>
<text class="tk" transform="rotate(173.2 772 665) translate(772 345.5) rotate(180)">112kb</text>
<text class="tk" transform="rotate(182.6 772 665) translate(772 345.5) rotate(180)">116kb</text>
<text class="tk" transform="rotate(192 772 665) translate(772 345.5) rotate(180)">120kb</text>
<text class="tk" transform="rotate(201.4 772 665) translate(772 345.5) rotate(180)">124kb</text>
<text class="tk" transform="rotate(210.8 772 665) translate(772 345.5) rotate(180)">128kb</text>
<text class="tk" transform="rotate(220.2 772 665) translate(772 345.5) rotate(180)">132kb</text>
<text class="tk" transform="rotate(229.6 772 665) translate(772 345.5) rotate(180)">136kb</text>
<text class="tk" transform="rotate(239 772 665) translate(772 345.5) rotate(180)">140kb</text>
<text class="tk" transform="rotate(248.4 772 665) translate(772 345.5) rotate(180)">144kb</text>
<text class="tk" transform="rotate(257.8 772 665) translate(772 345.5) rotate(180)">148kb</text>
<text class="tk" transform="translate(452 687) rotate(87)">152kb</text>
</g>
<g id="regions">
<circle cx="772" cy="665" r="257" fill="#646c72"/>
<path d="M772 665L515 665A257 257 0 1 1 1016.4 744.4Z" fill="#61b3aa"/>
<path d="M772 665L829.4 915.5A257 257 0 0 1 639.6 885.3Z" fill="#9dc3e0"/>
</g>
<g id="region-labels">
<text class="m" transform="translate(808 438) rotate(6)">LSC: 84250</text>
<text class="m" transform="translate(737 888) rotate(11)">SSC: 18657</text>
<text class="m wh" transform="translate(926 836) rotate(-41)">IRA: 25147</text>
<text class="m wh" transform="translate(573 777) rotate(56)">IRB: 25147</text>
</g>
<g id="repeats">
<ellipse cx="771" cy="662.7" rx="218" ry="212" fill="#fff" stroke="#000" stroke-width="2.5"/>
<ellipse cx="771" cy="662.7" rx="199" ry="192.5" fill="none" stroke="#000" stroke-width="4"/>
<ellipse cx="771" cy="662.7" rx="176.5" ry="172.5" fill="none" stroke="#000" stroke-width="4"/>
<g transform="translate(540 450) scale(.33333)">
<path class="gt" d="M605 5L613 55M628 3L636 55M850 18L838 65M1005 78L980 125M1030 92L1000 132M1105 140L1068 183M1192 225L1145 262M1252 305L1205 335M1283 357L1232 382M1333 505L1278 517M1337 740L1280 730M880 1247L865 1190M320 1160L352 1110M45 585L100 588M60 493L115 505M135 318L185 345M145 297L190 325M197 218L245 252M225 192L268 232M320 113L355 155M362 85L395 128M385 73L415 120M433 53L458 100M477 33L497 85M812 1262L805 1208M828 1262L818 1208"/>
<path class="gt" d="M905 32L890 85M1345 672L1287 672" style="stroke-width:11"/>
<path class="bt" d="M540 72L558 140M780 60L770 122M915 95L890 160M995 133L958 193M1015 145L977 205M1143 255L1090 300M1250 437L1185 460M1285 650L1217 647M1212 920L1155 888M1178 968L1125 932M875 1190L852 1125M445 1160L472 1098M350 1108L385 1053M125 805L188 787M110 750L175 738M105 545L178 555M272 225L325 272M308 193L355 243M392 130L430 193"/>
<path class="bt" d="M175 350L235 385" style="stroke-width:18"/>
<path class="bt" d="M732 1215L730 1148" style="stroke-width:30"/>
<path class="bt" d="M812 1205L802 1135M822 1203L812 1133" style="stroke-width:14"/>
<path class="rc" d="M630 180C640 320 560 490 440 495L235 382"/>
<path class="rc" d="M750 122C735 230 720 350 690 350C655 345 635 270 630 180"/>
<path class="rc" d="M770 125C760 230 770 400 845 400C920 400 1000 310 1055 260"/>
<path class="rc" d="M772 125C745 480 860 830 1025 1035"/>
<path class="rc" d="M772 125C755 500 900 830 1072 992"/>
<path class="rc" d="M765 300C760 420 770 500 790 580"/>
<path class="rc" d="M1217 617C1000 620 850 690 780 780C700 880 660 1000 640 1130"/>
<path class="rc" d="M405 692L180 735M412 720L190 785M950 775L1155 888M935 798L1125 932M520 870L385 1053"/>
<path class="rc" d="M222 858C320 800 480 770 560 840C620 895 640 1000 637 1145"/>
<path class="rc" d="M255 915C340 850 470 800 550 850C610 890 635 990 637 1145"/>
<path class="rc" d="M715 930L732 1150M752 918L795 1140M782 908L850 1125"/>
<path class="gc" d="M628 125C650 260 690 360 730 355C760 350 810 240 835 140"/>
<path class="gc" d="M800 130C770 280 640 500 430 505C350 508 270 485 200 458"/>
<path class="gc" d="M795 150C750 330 600 700 220 858"/>
<path class="gc" d="M790 170C730 380 600 720 255 915"/>
<path class="gc" d="M800 130C770 300 690 700 637 1145"/>
<path class="gc" d="M775 260C790 420 880 610 1217 617"/>
<path class="gc" d="M168 626L400 630"/>
<path class="gc" d="M175 738C300 710 450 690 560 695C750 700 950 790 1155 888"/>
<path class="gc" d="M188 787C320 740 470 715 600 720C780 730 950 820 1125 932"/>
<path class="gc" d="M385 1053C470 930 550 875 630 875C720 875 800 1000 852 1125"/>
<path class="gc" d="M640 1130C670 980 740 858 825 858C930 858 1020 930 1075 992"/>
<path class="gc" d="M640 1130C680 990 750 870 810 872C900 875 970 950 1025 1035"/>
<path class="gc" d="M718 915C705 1000 705 1080 708 1150"/>
<path class="gc" d="M722 925C735 1000 750 1080 762 1148"/>
</g>
</g>
<g id="connectors">
<polyline points="276,665 258,665"/><polyline points="276,646 259,644"/><polyline points="279,608 262,606"/><polyline points="289,549 273,546"/><polyline points="298,519 281,514"/><polyline points="306,495 289,489"/>
<polyline points="325,452 320,449 310,457 304,456"/><polyline points="331,439 326,435 320,442 311,441"/><polyline points="333,435 318,425"/><polyline points="335,429 333,427 330,413 326,412"/>
<polyline points="607,198 601,181"/><polyline points="708,173 706,155"/><polyline points="732,172 731,162 727,156 727,151"/><polyline points="739,170 743,160 743,153"/><polyline points="768,169 768,151"/><polyline points="814,170 816,153"/><polyline points="871,178 875,162"/><polyline points="921,192 927,175"/><polyline points="936,195 943,181"/><polyline points="980,213 985,207 984,200 987,194"/><polyline points="994,220 996,212 1002,205"/><polyline points="1005,225 1008,217 1016,212"/><polyline points="1052,255 1062,240"/><polyline points="1067,265 1078,252"/>
<polyline points="1205,419 1206,400 1212,397"/><polyline points="1208,424 1217,413 1221,410"/><polyline points="1209,427 1217,425 1224,428 1228,428"/><polyline points="1212,432 1217,432 1227,442 1235,442"/><polyline points="1229,467 1233,465 1238,457 1242,456"/><polyline points="1232,472 1238,470 1243,473 1248,473"/><polyline points="1244,510 1262,505"/><polyline points="1250,530 1267,526"/><polyline points="1257,555 1273,551"/><polyline points="1267,623 1285,622"/>
<polyline points="1268,705 1273,703 1281,683 1287,683"/><polyline points="1267,710 1271,710 1281,698 1286,698"/><polyline points="1266,723 1271,723 1280,715 1284,715"/><polyline points="1265,733 1270,735 1282,731"/><polyline points="1263,743 1273,747 1280,748"/><polyline points="1262,755 1268,757 1272,763 1278,765"/><polyline points="1257,775 1270,780 1274,780"/><polyline points="1252,798 1260,798 1270,796"/><polyline points="1247,809 1265,813"/><polyline points="1245,817 1253,827 1261,828"/><polyline points="1239,835 1248,843 1255,846"/><polyline points="1233,853 1247,860"/><polyline points="1231,859 1237,865 1240,874 1243,877"/>
<polyline points="1147,893 1131,883"/><polyline points="1151,987 1165,1000"/><polyline points="1127,1015 1140,1027"/><polyline points="1104,1037 1115,1051"/><polyline points="1088,1048 1100,1067"/><polyline points="1070,1064 1080,1077"/><polyline points="1038,1048 1019,1024 1012,1011"/><polyline points="1007,1035 998,1020"/><polyline points="938,1069 933,1053"/><polyline points="905,1082 914,1070 913,1062"/><polyline points="901,1083 897,1067"/><polyline points="895,1083 893,1080 881,1077 880,1072"/><polyline points="904,1147 907,1162"/><polyline points="833,1098 832,1081"/><polyline points="777,1103 778,1087"/>
<polyline points="762,1102 762,1085"/><polyline points="732,1100 733,1092 737,1085"/><polyline points="707,1098 710,1090 720,1082"/><polyline points="692,1095 695,1087 703,1080"/><polyline points="681,1093 683,1083 687,1077"/><polyline points="672,1092 671,1080 672,1073"/><polyline points="652,1085 655,1077 654,1070"/>
<polyline points="609,1135 607,1143 607,1152"/><polyline points="598,1131 595,1140 590,1147"/><polyline points="579,1123 572,1140"/><polyline points="565,1050 574,1035"/><polyline points="518,1056 530,1037 542,1018"/><polyline points="513,1090 505,1103"/><polyline points="492,1075 489,1083 493,1092 490,1097"/><polyline points="487,1072 477,1087"/><polyline points="480,1067 477,1073 468,1072 464,1077"/><polyline points="450,1044 439,1057"/><polyline points="390,983 377,993"/><polyline points="378,965 363,975"/>
<polyline points="415,918 430,909"/><polyline points="404,900 418,892"/><polyline points="396,885 410,877"/><polyline points="381,859 397,852"/><polyline points="368,832 385,827"/><polyline points="288,780 273,784"/><polyline points="337,703 342,703 348,708 355,708"/><polyline points="336,697 342,697 347,691 354,691"/><polyline points="336,681 342,680 347,673 354,673"/>
<polyline points="357,529 363,530 368,537 373,539"/><polyline points="360,519 368,522 377,522"/><polyline points="367,501 384,508"/><polyline points="373,486 381,488 390,490"/><polyline points="412,419 427,428"/><polyline points="445,377 458,390"/><polyline points="492,331 502,345"/><polyline points="530,303 539,317"/><polyline points="543,295 553,308"/><polyline points="568,278 577,294"/><polyline points="587,270 595,286"/><polyline points="611,260 618,276"/><polyline points="648,246 653,264"/><polyline points="678,240 683,256"/><polyline points="699,234 702,252"/><polyline points="725,230 724,235 721,241 720,248"/><polyline points="732,230 732,237 738,242 738,247"/>
<polyline points="893,245 887,263"/><polyline points="941,262 935,277"/><polyline points="1012,300 1003,315"/><polyline points="1062,338 1051,351"/><polyline points="1088,363 1075,375"/><polyline points="1107,382 1103,385 1097,387 1092,392"/><polyline points="1117,396 1112,392 1102,405"/><polyline points="1131,416 1115,424"/><polyline points="1141,430 1126,438"/><polyline points="1170,484 1165,484 1155,474 1147,474"/><polyline points="1173,487 1165,488 1160,492 1155,492"/><polyline points="1178,502 1161,507"/><polyline points="1182,512 1177,513 1173,522 1167,523"/><polyline points="1184,520 1178,521 1177,538 1172,539"/><polyline points="1206,607 1197,606 1188,605"/><polyline points="1208,625 1200,623 1189,623"/><polyline points="1210,633 1203,633 1197,640 1191,640"/><polyline points="1210,647 1203,647 1197,657 1190,657"/><polyline points="1209,676 1192,676"/>
</g>
<g id="legend">
<g id="lg1"><rect class="sw" x="32.5" y="1012" width="13" height="12" fill="#2a6332"/><text class="lg" x="61" y="1018">photosystem I</text></g>
<g id="lg2"><rect class="sw" x="32.5" y="1033" width="13" height="12" fill="#4c8805"/><text class="lg" x="61" y="1039.3">photosystem II</text></g>
<g id="lg3"><rect class="sw" x="32.5" y="1054.5" width="13" height="12" fill="#7c972a"/><text class="lg" x="61" y="1060.6">cytochrome b/f complex</text></g>
<g id="lg4"><rect class="sw" x="32.5" y="1076" width="13" height="12" fill="#9fbb3b"/><text class="lg" x="61" y="1081.9">ATP synthesis</text></g>
<g id="lg5"><rect class="sw" x="32.5" y="1097" width="13" height="12" fill="#fff14a"/><text class="lg" x="61" y="1103.2">NADH dehydrogenase</text></g>
<g id="lg6"><rect class="sw" x="32.5" y="1118.5" width="13" height="12" fill="#4d9e3f"/><text class="lg" x="61" y="1124.5">RubisCO larg subunit</text></g>
<g id="lg7"><rect class="sw" x="32.5" y="1140" width="13" height="12" fill="#ae2e27"/><text class="lg" x="61" y="1145.8">RNA polymerase</text></g>
<g id="lg8"><rect class="sw" x="32.5" y="1161" width="13" height="12" fill="#d6ad7c"/><text class="lg" x="61" y="1167.1">small ribosomal protein</text></g>
<g id="lg9"><rect class="sw" x="32.5" y="1182.5" width="13" height="12" fill="#9c7a4b"/><text class="lg" x="61" y="1188.4">large ribosomal protein</text></g>
<g id="lg10"><rect class="sw" x="32.5" y="1204" width="13" height="12" fill="#d9662c"/><text class="lg" x="61" y="1209.7">clpP, matK, infA</text></g>
<g id="lg11"><rect class="sw" x="32.5" y="1225" width="13" height="12" fill="#71b8a9"/><text class="lg" x="61" y="1231">hypothetical reading frame</text></g>
<g id="lg12"><rect class="sw" x="32.5" y="1246.5" width="13" height="12" fill="#172a87"/><text class="lg" x="61" y="1252.3">transfer RNA</text></g>
<g id="lg13"><rect class="sw" x="32.5" y="1268" width="13" height="12" fill="#d1382c"/><text class="lg" x="61" y="1273.6">ribosomal RNA</text></g>
<g id="lg14"><rect class="sw" x="32.5" y="1289" width="13" height="12" fill="#7d7d7d"/><text class="lg" x="61" y="1294.9">other</text></g>
</g>
</svg>
